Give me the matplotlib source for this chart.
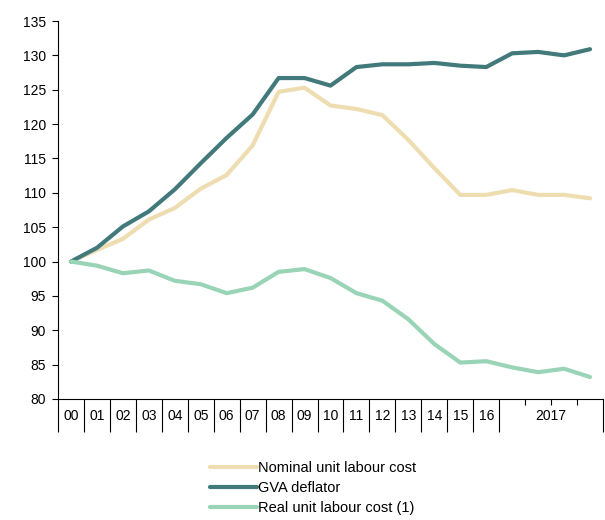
import matplotlib.pyplot as plt
import matplotlib.transforms as mtransforms
import numpy as np

plt.rcParams['font.family'] = ['Liberation Sans', 'DejaVu Sans']

# 数据：2000-2016 年度，2017 按季度
periods = ['00', '01', '02', '03', '04', '05', '06', '07', '08', '09', '10',
           '11', '12', '13', '14', '15', '16', '17Q1', '17Q2', '17Q3', '17Q4']
nominal_ulc = [100, 101.7, 103.3, 106.1, 107.8, 110.6, 112.6, 116.9, 124.7, 125.3, 122.7,
               122.2, 121.3, 117.7, 113.6, 109.7, 109.7, 110.4, 109.7, 109.7, 109.2]
gva_deflator = [100, 102.0, 105.1, 107.3, 110.5, 114.3, 118.0, 121.4, 126.7, 126.7, 125.6,
                128.3, 128.7, 128.7, 128.9, 128.5, 128.3, 130.3, 130.5, 130.0, 130.9]
real_ulc = [100, 99.4, 98.3, 98.7, 97.2, 96.7, 95.4, 96.2, 98.5, 98.9, 97.6,
            95.4, 94.3, 91.6, 88.0, 85.3, 85.5, 84.6, 83.9, 84.4, 83.2]
year_labels = ['00', '01', '02', '03', '04', '05', '06', '07', '08', '09', '10',
               '11', '12', '13', '14', '15', '16', '2017']

fig = plt.figure(figsize=(6.05, 5.2), dpi=100)
ax = fig.add_axes([0.0959, 0.2327, 0.9008, 0.7269])

x = np.arange(len(periods)) + 0.5
l1, = ax.plot(x, nominal_ulc, color='#EFDDB2', lw=3.0, solid_capstyle='round', label='Nominal unit labour cost')
l2, = ax.plot(x, gva_deflator, color='#427A7C', lw=3.0, solid_capstyle='round', label='GVA deflator')
l3, = ax.plot(x, real_ulc, color='#9AD4B7', lw=3.0, solid_capstyle='round', label='Real unit labour cost (1)')

ax.set_xlim(0, len(periods))
ax.set_ylim(80, 135)
ax.set_yticks(np.arange(80, 136, 5))
ax.tick_params(axis='y', direction='out', length=4.5, width=0.8, labelsize=10, pad=4)

# x 轴：类别分隔线（年份长，季度短）
ax.set_xticks(np.arange(0, len(periods) + 1))
ax.set_xticklabels([])
ax.tick_params(axis='x', which='major', direction='out', length=24, width=0.8)
for i, t in enumerate(ax.xaxis.get_major_ticks()):
    if i in (18, 19, 20):
        t.tick1line.set_markersize(4)

# 年份标签放在各区间中央
centers = list(np.arange(17) + 0.5) + [19]
trans = mtransforms.blended_transform_factory(ax.transData, ax.transAxes)
for c, lab in zip(centers, year_labels):
    ax.text(c, -0.045, lab, transform=trans, ha='center', va='center', fontsize=10)

for s in ['top', 'right']:
    ax.spines[s].set_visible(False)
ax.spines['left'].set_linewidth(0.8)
ax.spines['bottom'].set_linewidth(0.8)

fig.legend(handles=[l1, l2, l3], loc='upper left', bbox_to_anchor=(0.335, 0.128),
           frameon=False, fontsize=10.5, handlelength=3.2, handletextpad=0.1,
           labelspacing=0.42, borderpad=0)

plt.savefig('out.png', dpi=100)
